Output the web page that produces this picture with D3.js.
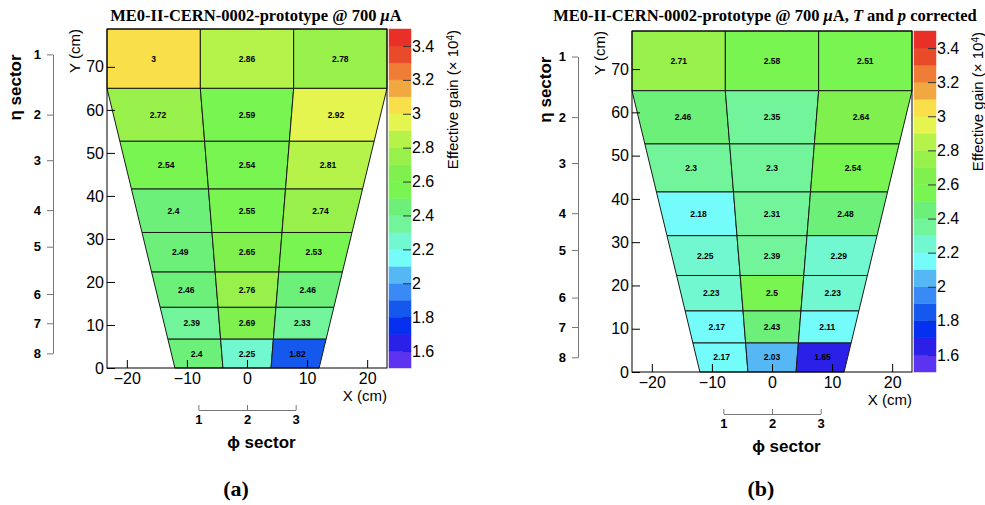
<!DOCTYPE html>
<html>
<head>
<meta charset="utf-8">
<script src="https://cdn.jsdelivr.net/npm/d3@7"></script>
<style>
  body { margin: 0; background: #fff; }
  text { fill: #000; }
</style>
</head>
<body>
<svg id="chart" width="985" height="505"></svg>
<script>
// effective gain (x 10^4), rows = eta sector 1..8, columns = phi sector 1..3
const gainRaw = [
  [3, 2.86, 2.78],
  [2.72, 2.59, 2.92],
  [2.54, 2.54, 2.81],
  [2.4, 2.55, 2.74],
  [2.49, 2.65, 2.53],
  [2.46, 2.76, 2.46],
  [2.39, 2.69, 2.33],
  [2.4, 2.25, 1.82],
];
const gainCorrected = [
  [2.71, 2.58, 2.51],
  [2.46, 2.35, 2.64],
  [2.3, 2.3, 2.54],
  [2.18, 2.31, 2.48],
  [2.25, 2.39, 2.29],
  [2.23, 2.5, 2.23],
  [2.17, 2.43, 2.11],
  [2.17, 2.03, 1.65],
];

const etaSectors = [1, 2, 3, 4, 5, 6, 7, 8];
const phiSectors = [1, 2, 3];
// eta row boundaries along Y (cm), bottom to top
const rowEdgesCm = [0, 6.7, 14.1, 22.3, 31.5, 41.6, 52.7, 65.0, 78.8];
// where the eta sector labels sit along Y (cm)
const etaLabelYcm = [72.9, 58.9, 48.3, 36.7, 28.2, 17.2, 10.4, 3.4];
const phiAxisCm = [-8.1, 8.1];
const halfWidthBottom = 12;
const halfWidthTop = 23.3;

const xDomainCm = [-23.3, 23.3];
const yDomainCm = [0, 78.8];
const xTicks = [-20, -10, 0, 10, 20];
const yTicks = [0, 10, 20, 30, 40, 50, 60, 70];
const zDomain = [1.5, 3.5];
const zTicks = [1.6, 1.8, 2, 2.2, 2.4, 2.6, 2.8, 3, 3.2, 3.4];

// one colour per 0.1 band, from 1.5 up to 3.5
const palette = [
  "#5b33f0", "#2b20e8", "#0530f0", "#1458ee", "#3a8af5",
  "#55b8f5", "#73fcfa", "#72f8d0", "#72f59a", "#6cf07a",
  "#78f550", "#80f04e", "#98f04a", "#b5f24a", "#e5f550",
  "#f9e04a", "#f2a840", "#ef7d35", "#e84a2a", "#e83028",
];
const zLevels = d3.range(0, palette.length + 1).map((i) => Math.round((zDomain[0] + i * 0.1) * 10) / 10);
const color = d3.scaleThreshold().domain(zLevels.slice(1, -1)).range(palette);

const SANS = "'Liberation Sans', Arial, Helvetica, sans-serif";
const SERIF = "'Liberation Serif', 'Times New Roman', serif";

const panels = [
  {
    frame: { x: 107, y: 29, w: 280, h: 339 },
    values: gainRaw,
    titleX: 256,
    etaTitleDx: -86,
    title: [["ME0-II-CERN-0002-prototype @ 700 ", false], ["\u03bc", true], ["A", false]],
    label: "(a)",
  },
  {
    frame: { x: 632, y: 31, w: 280, h: 341 },
    values: gainCorrected,
    titleX: 765,
    etaTitleDx: -81,
    title: [
      ["ME0-II-CERN-0002-prototype @ 700 ", false], ["\u03bc", true], ["A, ", false],
      ["T", true], [" and ", false], ["p", true], [" corrected", false],
    ],
    label: "(b)",
  },
];

const svg = d3.select("#chart");
svg.append("rect").attr("width", 985).attr("height", 505).attr("fill", "#fff");

const halfWidth = (y) =>
  y >= rowEdgesCm[7]
    ? halfWidthTop
    : halfWidthBottom + ((halfWidthTop - halfWidthBottom) * y) / rowEdgesCm[7];

function drawPanel(p) {
  const f = p.frame;
  const x = d3.scaleLinear().domain(xDomainCm).range([f.x, f.x + f.w]);
  const y = d3.scaleLinear().domain(yDomainCm).range([f.y + f.h, f.y]);
  const g = svg.append("g");

  // cells
  const cells = [];
  etaSectors.forEach((eta, k) => {
    const lo = rowEdgesCm[7 - k];
    const hi = rowEdgesCm[8 - k];
    phiSectors.forEach((phi, j) => {
      const f0 = -1 + (2 * j) / 3;
      const f1 = -1 + (2 * (j + 1)) / 3;
      const ym = (lo + hi) / 2;
      cells.push({
        eta, phi,
        value: p.values[k][j],
        pts: [
          [f0 * halfWidth(lo), lo],
          [f1 * halfWidth(lo), lo],
          [f1 * halfWidth(hi), hi],
          [f0 * halfWidth(hi), hi],
        ],
        cx: ((f0 + f1) / 2) * halfWidth(ym),
        cy: ym,
      });
    });
  });

  const line = d3.line().x((d) => x(d[0])).y((d) => y(d[1]));
  g.selectAll("path.cell")
    .data(cells)
    .enter()
    .append("path")
    .attr("class", "cell")
    .attr("d", (d) => line(d.pts) + "Z")
    .attr("fill", (d) => color(d.value))
    .attr("stroke", "#1a1a1a")
    .attr("stroke-width", 1);

  g.selectAll("text.val")
    .data(cells)
    .enter()
    .append("text")
    .attr("class", "val")
    .attr("x", (d) => x(d.cx))
    .attr("y", (d) => y(d.cy))
    .attr("dy", "0.35em")
    .attr("text-anchor", "middle")
    .style("font", `bold 8.5px ${SANS}`)
    .text((d) => d.value);

  // frame
  g.append("rect")
    .attr("x", f.x).attr("y", f.y).attr("width", f.w).attr("height", f.h)
    .attr("fill", "none").attr("stroke", "#000").attr("stroke-width", 1);

  // Y axis
  const yAxisG = g.append("g").attr("transform", `translate(${f.x},0)`);
  yAxisG.call(d3.axisLeft(y).tickValues(d3.range(0, 79, 2)).tickSize(-4).tickFormat(""));
  yAxisG.call(d3.axisLeft(y).tickValues(yTicks).tickSize(-8).tickPadding(3));
  yAxisG.selectAll(".domain").remove();
  yAxisG.selectAll("text").style("font", `16px ${SANS}`).attr("fill", "#000");

  // X axis
  const xAxisG = g.append("g").attr("transform", `translate(0,${f.y + f.h})`);
  xAxisG.call(d3.axisBottom(x).tickValues(d3.range(-22, 23, 2)).tickSize(-4).tickFormat(""));
  xAxisG.call(d3.axisBottom(x).tickValues(xTicks).tickSize(-8).tickPadding(5).tickFormat((d) => d3.format("")(d).replace("-", "\u2212")));
  xAxisG.selectAll(".domain").remove();
  xAxisG.selectAll("text").style("font", `16px ${SANS}`).attr("fill", "#000");

  g.append("text")
    .attr("x", f.x + f.w).attr("y", f.y + f.h + 33)
    .attr("text-anchor", "end")
    .style("font", `15px ${SANS}`)
    .text("X (cm)");

  g.append("text")
    .attr("transform", `translate(${f.x - 27},${f.y}) rotate(-90)`)
    .attr("text-anchor", "end")
    .style("font", `15px ${SANS}`)
    .text("Y (cm)");

  // colour bar
  const barX = f.x + f.w + 2;
  const barW = 22;
  const z = d3.scaleLinear().domain(zDomain).range([f.y + f.h, f.y]);
  g.selectAll("rect.band")
    .data(palette)
    .enter()
    .append("rect")
    .attr("class", "band")
    .attr("x", barX)
    .attr("y", (d, i) => z(zLevels[i + 1]))
    .attr("width", barW)
    .attr("height", (d, i) => z(zLevels[i]) - z(zLevels[i + 1]))
    .attr("fill", (d) => d)
    .attr("stroke", (d) => d)
    .attr("stroke-width", 0.5);

  const zAxisG = g.append("g").attr("transform", `translate(${barX + barW},0)`);
  zAxisG.call(d3.axisRight(z).tickValues(zTicks).tickSize(-8).tickPadding(1).tickFormat((d) => String(d)));
  zAxisG.selectAll(".domain").remove();
  zAxisG.selectAll("line").attr("stroke", "#333");
  zAxisG.selectAll("text").style("font", `16px ${SANS}`).attr("fill", "#000");

  const zTitle = g.append("text")
    .attr("transform", `translate(${barX + barW + 47},${f.y + 1}) rotate(-90)`)
    .attr("text-anchor", "end")
    .style("font", `15px ${SANS}`);
  zTitle.append("tspan").text("Effective gain (\u00d7 10");
  zTitle.append("tspan").attr("dy", "-0.45em").style("font-size", "10px").text("4");
  zTitle.append("tspan").attr("dy", "0.3em").text(")");

  // eta sector axis
  const etaScale = d3.scaleOrdinal().domain(etaSectors).range(etaLabelYcm.map((v) => y(v)));
  const etaX = f.x - 54;
  const etaG = g.append("g").attr("transform", `translate(${etaX},0)`);
  etaG.call(d3.axisLeft(etaScale).tickSize(6).tickSizeOuter(0).tickPadding(6));
  etaG.selectAll("path, line").attr("stroke", "#777");
  etaG.selectAll("text").style("font", `bold 13px ${SANS}`).attr("fill", "#000");

  g.append("text")
    .attr("transform", `translate(${f.x + p.etaTitleDx},${etaScale(1)}) rotate(-90)`)
    .attr("text-anchor", "end")
    .style("font", `bold 17px ${SANS}`)
    .text("\u03b7 sector");

  // phi sector axis
  const phiScale = d3.scaleLinear().domain([1, 3]).range(phiAxisCm.map((v) => x(v)));
  const phiY = f.y + f.h + 42;
  const phiG = g.append("g").attr("transform", `translate(0,${phiY})`);
  phiG.call(d3.axisBottom(phiScale).tickValues(d3.range(1, 3.001, 0.1)).tickSize(-2).tickSizeOuter(0).tickFormat(""));
  phiG.call(d3.axisBottom(phiScale).tickValues(phiSectors).tickSize(-5).tickSizeOuter(0).tickPadding(5).tickFormat(d3.format("d")));
  phiG.selectAll("path, line").attr("stroke", "#777");
  phiG.selectAll("text").style("font", `bold 13px ${SANS}`).attr("fill", "#000");

  g.append("text")
    .attr("x", phiScale(3)).attr("y", phiY + 38)
    .attr("text-anchor", "end")
    .style("font", `bold 17px ${SANS}`)
    .text("\u03d5 sector");

  // title
  const t = g.append("text")
    .attr("x", p.titleX).attr("y", 21)
    .attr("text-anchor", "middle")
    .style("font", `bold 16.5px ${SERIF}`);
  p.title.forEach(([s, it]) => {
    t.append("tspan").style("font-style", it ? "italic" : "normal").text(s);
  });

  g.append("text")
    .attr("x", f.x + f.w / 2 - 11).attr("y", 496)
    .attr("text-anchor", "middle")
    .style("font", `bold 22px ${SERIF}`)
    .text(p.label);
}

panels.forEach(drawPanel);
</script>
</body>
</html>
